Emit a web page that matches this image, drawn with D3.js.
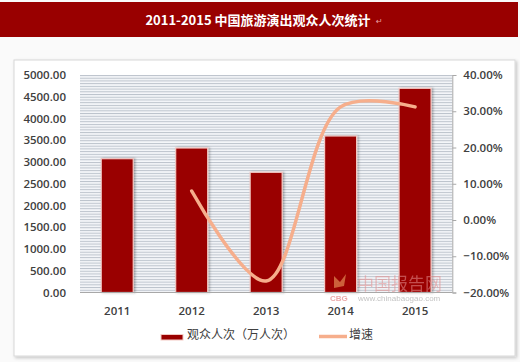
<!DOCTYPE html>
<html><head><meta charset="utf-8">
<script src="https://cdn.jsdelivr.net/npm/d3@7"></script>
<style>
html,body{margin:0;padding:0;background:#fafafa;}
svg{display:block;}
</style></head>
<body>
<svg id="c" width="520" height="362"></svg>
<script>
const years = ["2011","2012","2013","2014","2015"];
const audience = [3076, 3322, 2763, 3598, 4694];
const growthYears = ["2012","2013","2014","2015"];
const growth = [8.0, -16.8, 31.2, 31.2];
const leftTicks = [0,500,1000,1500,2000,2500,3000,3500,4000,4500,5000];
const rightTicks = [-20,-10,0,10,20,30,40];
const title = "2011-2015 中国旅游演出观众人次统计";
const legendBar = "观众人次（万人次）";
const legendLine = "增速";

const svg = d3.select("#c");
const W = 520, H = 362;
const m = {l:80, r:452.3, t:75, b:292.5};

svg.append("rect").attr("width",W).attr("height",H).attr("fill","#fafafa");
// title bar
svg.append("rect").attr("x",0).attr("y",2).attr("width",518).attr("height",35).attr("fill","#990000");
svg.append("text").attr("x",258).attr("y",24.5).attr("text-anchor","middle")
  .attr("fill","#fff").attr("font-family","'Noto Sans CJK SC', sans-serif")
  .attr("font-weight","bold").attr("font-size",13).text(title);
svg.append("text").attr("x",376).attr("y",24).attr("fill","#e8a0a0").attr("font-size",8)
  .attr("font-family","DejaVu Sans").text("↵");

// panel with shadow
const defs = svg.append("defs");
const f = defs.append("filter").attr("id","sh").attr("x","-5%").attr("y","-5%").attr("width","110%").attr("height","110%");
f.append("feDropShadow").attr("dx",1.5).attr("dy",1.5).attr("stdDeviation",1.5).attr("flood-color","#000").attr("flood-opacity",0.22);
svg.append("rect").attr("x",14).attr("y",60).attr("width",501).attr("height",296)
  .attr("fill","#fff").attr("stroke","#d8d8d8").attr("stroke-width",1).attr("filter","url(#sh)");

// striped pattern
const pat = defs.append("pattern").attr("id","stripes").attr("patternUnits","userSpaceOnUse")
  .attr("width",8).attr("height",(m.b-m.t)/80).attr("y",m.t);
pat.append("rect").attr("width",8).attr("height",(m.b-m.t)/80).attr("fill","#f4f6f9");
pat.append("rect").attr("width",8).attr("height",1).attr("fill","#bcc3cc");

const x = d3.scaleBand().domain(years).range([m.l, m.r]).paddingInner(0.57).paddingOuter(0.285);
const yL = d3.scaleLinear().domain([0,5000]).range([m.b, m.t]);
const yR = d3.scaleLinear().domain([-20,40]).range([m.b, m.t]);

svg.append("rect").attr("x",m.l).attr("y",m.t).attr("width",m.r-m.l).attr("height",m.b-m.t)
  .attr("fill","url(#stripes)");

// bars
const bf = defs.append("filter").attr("id","bsh").attr("x","-20%").attr("y","-5%").attr("width","140%").attr("height","110%");
bf.append("feDropShadow").attr("dx",1.5).attr("dy",0).attr("stdDeviation",1).attr("flood-color","#000").attr("flood-opacity",0.3);
svg.append("g").selectAll("rect").data(years).join("rect")
  .attr("x",d=>x(d)).attr("width",x.bandwidth())
  .attr("y",(d,i)=>yL(audience[i])).attr("height",(d,i)=>m.b-yL(audience[i]))
  .attr("fill","#9a0000").attr("stroke","#f3c9c4").attr("stroke-width",1.2).attr("filter","url(#bsh)");

// watermark
svg.append("text").attr("x",357).attr("y",290).attr("fill","#e58f8f").attr("opacity",0.55)
  .attr("font-family","'Noto Sans CJK SC'").attr("font-size",17).text("中国报告网");
svg.append("path").attr("d","M334,276 l6,6 l6,-8 l-2,12 l-10,2 z").attr("fill","#f0a060").attr("opacity",0.6);
svg.append("text").attr("x",358).attr("y",300.5).attr("fill","#b8b8b8").attr("opacity",0.85)
  .attr("font-family","'Liberation Sans'").attr("font-size",8).text("www.chinabaogao.com");
svg.append("text").attr("x",330).attr("y",300.5).attr("fill","#e79a9a").attr("opacity",0.85)
  .attr("font-family","'Liberation Sans'").attr("font-weight","bold").attr("font-size",8).text("CBG");

// baseline
svg.append("line").attr("x1",m.l).attr("x2",m.r).attr("y1",m.b).attr("y2",m.b)
  .attr("stroke","#a8a8a8").attr("stroke-width",1);

const fontNum = "'Open Sans', sans-serif";
// left axis labels
const axL = d3.axisLeft(yL).tickValues(leftTicks).tickSize(0).tickPadding(14).tickFormat(d3.format(".2f"));
const gL = svg.append("g").attr("transform",`translate(${m.l},0)`).call(axL);
gL.select(".domain").remove();
gL.selectAll("text").attr("font-family",fontNum).attr("font-size",11.5)
  .attr("font-weight",600).attr("fill","#404040");

// right axis
const axR = d3.axisRight(yR).tickValues(rightTicks).tickSize(4).tickPadding(7)
  .tickFormat(d=>d3.format(".2f")(d)+"%");
const gR = svg.append("g").attr("transform",`translate(${m.r},0)`).call(axR);
gR.select(".domain").attr("stroke","#a8a8a8");
gR.selectAll(".tick line").attr("stroke","#a8a8a8");
gR.selectAll("text").attr("font-family",fontNum).attr("font-size",11.5)
  .attr("font-weight",600).attr("fill","#404040");

// x axis labels
const axX = d3.axisBottom(x).tickSize(0).tickPadding(14);
const gX = svg.append("g").attr("transform",`translate(0,${m.b})`).call(axX);
gX.select(".domain").remove();
gX.selectAll("text").attr("font-family",fontNum).attr("font-size",11.5)
  .attr("font-weight",600).attr("fill","#404040");

// growth line
const line = d3.line().x((d,i)=>x(growthYears[i])+x.bandwidth()/2).y(d=>yR(d))
  .curve(d3.curveCatmullRom.alpha(0.5));
svg.append("path").datum(growth).attr("d",line).attr("fill","none")
  .attr("stroke","#f6ae8c").attr("stroke-width",3.5).attr("stroke-linecap","round");

// legend
svg.append("rect").attr("x",161).attr("y",334.5).attr("width",22).attr("height",5.5)
  .attr("fill","#9a0000").attr("stroke","#f3c9c4").attr("stroke-width",1);
svg.append("text").attr("x",187).attr("y",339).attr("font-family","'Noto Sans CJK SC'")
  .attr("font-size",12).attr("fill","#404040").text(legendBar);
svg.append("line").attr("x1",319).attr("x2",347).attr("y1",336.5).attr("y2",336.5)
  .attr("stroke","#f6ae8c").attr("stroke-width",3.5);
svg.append("text").attr("x",349).attr("y",339).attr("font-family","'Noto Sans CJK SC'")
  .attr("font-size",12).attr("fill","#404040").text(legendLine);
</script>
</body></html>
